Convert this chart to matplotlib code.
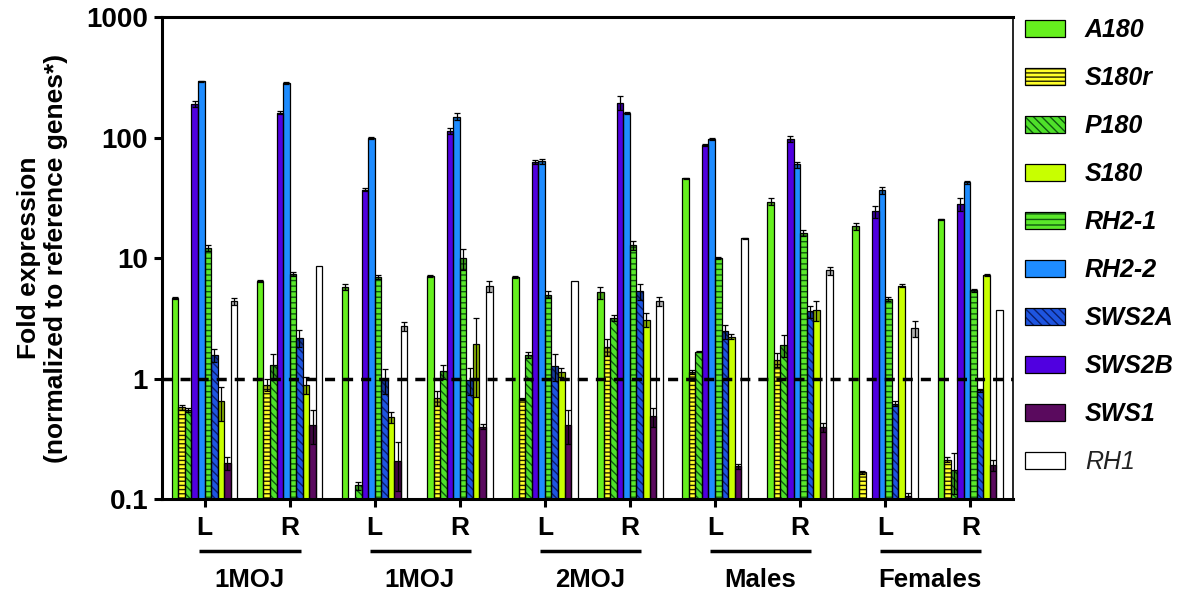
import numpy as np
import matplotlib.pyplot as plt
from matplotlib.legend_handler import HandlerTuple
from matplotlib.ticker import NullLocator
from matplotlib.transforms import blended_transform_factory

plt.rcParams['font.family'] = ['Liberation Sans', 'DejaVu Sans']
plt.rcParams['hatch.linewidth'] = 1.0

nan = np.nan

# Samples: left / right eye for each group
groups = ['1MOJ', '1MOJ', '2MOJ', 'Males', 'Females']
sides = ['L', 'R'] * 5

genes = ['A180', 'S180r', 'P180', 'S180', 'RH2-1', 'RH2-2', 'SWS2A', 'SWS2B', 'SWS1', 'RH1']

# fold expression (mean) per sample
a180 = [4.7, 6.5, 5.8, 7.1, 7.0, 5.2, 46, 29.5, 18.4, 21]
s180r = [0.58, 0.89, nan, 0.69, 0.68, 1.84, 1.14, 1.44, 0.167, 0.213]
p180 = [0.55, 1.3, 0.13, 1.15, 1.58, 3.2, 1.68, 1.91, nan, 0.176]
s180 = [0.65, 0.89, 0.48, 1.95, 1.13, 3.09, 2.24, 3.69, 5.91, 7.3]
rh2_1 = [12.2, 7.4, 7.0, 10.0, 5.0, 12.9, 10.0, 16.2, 4.6, 5.4]
rh2_2 = [293, 286, 99, 150, 64, 161, 97.5, 60, 36.5, 42.6]
sws2a = [1.58, 2.19, 0.98, 0.98, 1.28, 5.3, 2.47, 3.62, 0.62, 0.8]
sws2b = [191, 161, 37, 114, 63, 195, 87.5, 97.5, 24.5, 28.2]
sws1 = [0.2, 0.415, 0.206, 0.40, 0.415, 0.486, 0.187, 0.397, 0.107, 0.193]
rh1 = [4.4, 8.55, 2.72, 5.84, 6.42, 4.38, 14.6, 7.92, 2.63, 3.69]

# standard errors
a180_err = [0.1, 0.1, 0.3, 0.1, 0.1, 0.6, 0.6, 2.0, 1.2, 0.3]
s180r_err = [0.03, 0.1, nan, 0.1, 0.01, 0.3, 0.05, 0.2, 0.005, 0.01]
p180_err = [0.02, 0.3, 0.01, 0.15, 0.1, 0.2, 0.02, 0.4, nan, 0.065]
s180_err = [0.2, 0.15, 0.05, 1.25, 0.1, 0.4, 0.1, 0.7, 0.15, 0.15]
rh2_1_err = [0.8, 0.3, 0.3, 2.0, 0.3, 1.1, 0.2, 0.8, 0.2, 0.15]
rh2_2_err = [5, 5, 2, 10, 3, 3, 2, 3.5, 2.3, 1]
sws2a_err = [0.2, 0.35, 0.23, 0.25, 0.33, 0.8, 0.33, 0.4, 0.03, 0.02]
sws2b_err = [12, 5, 1, 7, 2, 25, 2, 5, 2.8, 3.4]
sws1_err = [0.025, 0.13, 0.09, 0.02, 0.13, 0.09, 0.01, 0.035, 0.005, 0.02]
rh1_err = [0.3, 0, 0.25, 0.6, 0, 0.35, 0.1, 0.6, 0.4, 0]

values = dict(zip(genes, [a180, s180r, p180, s180, rh2_1, rh2_2, sws2a, sws2b, sws1, rh1]))
errors = dict(zip(genes, [a180_err, s180r_err, p180_err, s180_err, rh2_1_err, rh2_2_err,
                          sws2a_err, sws2b_err, sws1_err, rh1_err]))

colors = {'A180': '#66f01e', 'S180r': '#ffff2a', 'P180': '#4fe02a', 'S180': '#c8ff00',
          'RH2-1': '#5ae82a', 'RH2-2': '#1e8cff', 'SWS2A': '#1e55e0', 'SWS2B': '#5000e0',
          'SWS1': '#5a0a5e', 'RH1': 'white'}
hatches = {'S180r': '----', 'P180': '\\\\\\\\', 'RH2-1': '---', 'SWS2A': '\\\\\\\\'}
hatch_colors = {'S180r': '#222200', 'P180': '#0f5a0f', 'RH2-1': '#0f5a0f', 'SWS2A': '#0a1e6e'}

# order of the bars inside each sample cluster
slot = ['A180', 'S180r', 'P180', 'SWS2B', 'RH2-2', 'RH2-1', 'SWS2A', 'S180', 'SWS1', 'RH1']

fig = plt.figure(figsize=(12, 5.95), dpi=100)
ax = fig.add_axes([0.135, 0.161, 0.709, 0.810])
ax.set_yscale('log')

x = np.arange(len(sides))
bw = 0.077
handles = {}
for i, g in enumerate(slot):
    pos = x + (i - 4.5) * bw
    vals = np.array(values[g], dtype=float)
    errs = np.array(errors[g], dtype=float)
    hc = hatch_colors.get(g, 'black')
    b1 = ax.bar(pos, vals, bw, color=colors[g], hatch=hatches.get(g), edgecolor=hc,
                linewidth=0, zorder=2)
    b2 = ax.bar(pos, vals, bw, fill=False, edgecolor='black', linewidth=0.9, zorder=3)
    ok = np.isfinite(vals) & np.isfinite(errs) & (errs > 0)
    low = np.clip(vals - errs, 0.05, None)
    # darker band for the lower half of the error bar, as in the original
    ax.bar(pos[ok], (vals - low)[ok], bw, bottom=low[ok], color='black', alpha=0.3,
           linewidth=0, zorder=4)
    ax.errorbar(pos[ok], vals[ok], yerr=errs[ok], fmt='none', ecolor='black',
                elinewidth=0.9, capsize=2.2, capthick=0.9, zorder=5)
    handles[g] = (b1[0], b2[0])

ax.axhline(1, color='black', lw=2.5, ls=(0, (2.9, 2.3)), zorder=6)

ax.set_xlim(-0.5, 9.5)
ax.set_ylim(0.1, 1000)
ax.set_yticks([0.1, 1, 10, 100, 1000])
ax.set_yticklabels(['0.1', '1', '10', '100', '1000'], fontsize=20, fontweight='bold')
ax.yaxis.set_minor_locator(NullLocator())
ax.set_xticks(x)
ax.set_xticklabels(sides, fontsize=19, fontweight='bold')
ax.tick_params(axis='both', length=6, width=2.2, pad=4)
ax.tick_params(axis='x', pad=6)

for side in ['left', 'bottom', 'top']:
    ax.spines[side].set_linewidth(2.2)
ax.spines['right'].set_linewidth(1.2)

ax.set_ylabel('Fold expression\n(normalized to reference genes*)', fontsize=19,
              fontweight='bold', linespacing=1.2)
ax.yaxis.set_label_coords(-0.11, 0.5)

trans = blended_transform_factory(ax.transData, ax.transAxes)
for k, name in enumerate(groups):
    L, R = 2 * k, 2 * k + 1
    ax.plot([L - 0.06, R + 0.13], [-0.108, -0.108], transform=trans, clip_on=False,
            color='black', lw=2.5, solid_capstyle='butt')
    ax.text((L + R) / 2 + 0.03, -0.168, name, transform=trans, ha='center', va='center',
            fontsize=18.5, fontweight='bold')

leg = fig.legend([handles[g] for g in genes], genes, loc='upper left',
                 bbox_to_anchor=(1025 / 1200, 1 - 18 / 595), frameon=False,
                 handler_map={tuple: HandlerTuple(ndivide=1, pad=0)},
                 handlelength=1.6, handleheight=0.7, handletextpad=0.8,
                 labelspacing=0.96, borderpad=0, borderaxespad=0,
                 prop=dict(weight='bold', style='italic', size=18))
leg.get_texts()[-1].set_fontweight('normal')
leg.get_texts()[-1].set_color('#222222')

fig.savefig('out.png', dpi=100)
